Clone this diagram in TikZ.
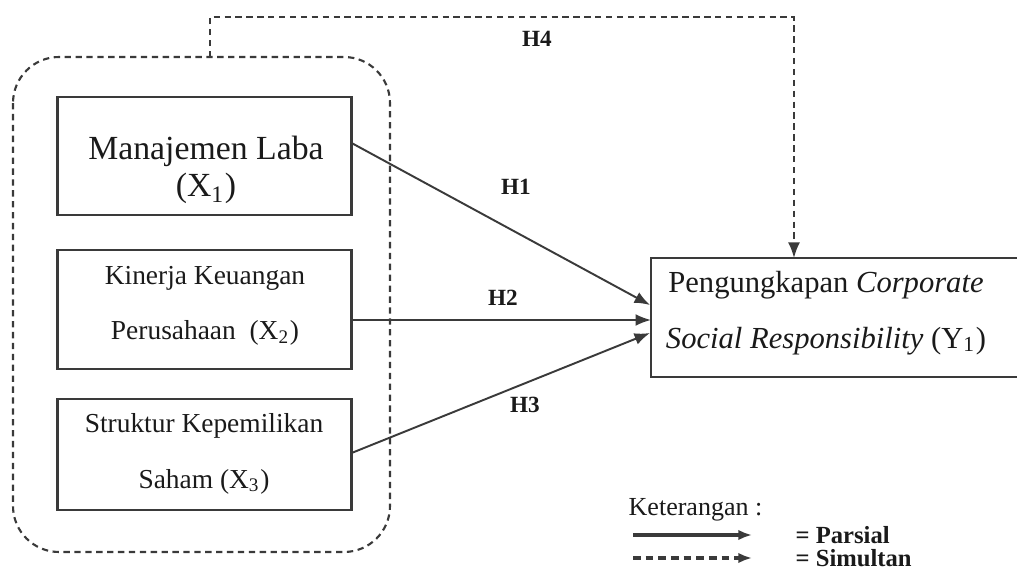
\documentclass[tikz,border=0pt]{standalone}
\usepackage{fontspec}
\setmainfont{Liberation Serif}
\usetikzlibrary{arrows.meta}
\definecolor{ln}{HTML}{3A3A3A}
\definecolor{tx}{HTML}{1A1A1A}
\begin{document}
\begin{tikzpicture}[x=0.01cm,y=-0.01cm,
  box/.style={draw=ln,line width=0.75pt,inner sep=0pt,outer sep=0pt},
  conn/.style={draw=ln,line width=0.55pt,-{Latex[length=4.4pt,width=3.4pt]}},
  dconn/.style={conn,dash pattern=on 1.8pt off 1.3pt},
  lbl/.style={text=tx,inner sep=0pt,align=center},
  hl/.style={text=tx,inner sep=0pt,font=\fontsize{6.6}{8}\selectfont\bfseries}]
\useasboundingbox (0,0) rectangle (1017,570);
\clip (0,0) rectangle (1017,570);
% grouping dashed rounded rectangle
\draw[draw=ln,line width=0.6pt,dash pattern=on 1.8pt off 1.3pt,rounded corners=0.46cm]
  (13,57) rectangle (390,552);
\coordinate (gtop) at (210,57);
% boxes
\node[box,minimum width=2.94cm,minimum height=1.18cm] (x1b) at (204.5,156) {};
\node[box,minimum width=2.94cm,minimum height=1.19cm] (x2b) at (204.5,309.5) {};
\node[box,minimum width=2.94cm,minimum height=1.11cm] (x3b) at (204.5,454.5) {};
\node[box,minimum width=3.70cm,minimum height=1.19cm] (yb) at (836,317.5) {};
% texts
\node[lbl,font=\fontsize{9.6}{10.6}\selectfont] (x1) at (206,170) {Manajemen Laba\\(X\textsubscript{1})};
\node[lbl,font=\fontsize{7.8}{15.8}\selectfont] (x2) at (205,306) {Kinerja Keuangan\\Perusahaan\ \ (X\textsubscript{2})};
\node[lbl,font=\fontsize{7.8}{15.8}\selectfont] (x3) at (204,454) {Struktur Kepemilikan\\Saham (X\textsubscript{3})};
\node[lbl,font=\fontsize{8.7}{15.9}\selectfont] (y) at (826,313) {Pengungkapan \textit{Corporate}\\\textit{Social Responsibility} (Y\textsubscript{1})};
% connectors
\coordinate (t1) at (650,305);
\coordinate (t2) at (651,320);
\coordinate (t3) at (650,333);
\draw[conn] (x1b.east |- 0,143) -- (t1);
\draw[conn] (x2b.east |- 0,320) -- (t2);
\draw[conn] (x3b.east |- 0,453) -- (t3);
\draw[dconn] (gtop) -- (210,17) -- (794,17) -- (yb.north -| 794,0);
% hypothesis labels
\node[hl] (h4) at (537,39) {H4};
\node[hl] (h1) at (516,187) {H1};
\node[hl] (h2) at (503,298) {H2};
\node[hl] (h3) at (525,405) {H3};
% legend
\node[lbl,anchor=west,font=\fontsize{7.4}{9}\selectfont] (ket) at (628,510) {Keterangan :};
\coordinate (ls1) at (633,535);
\coordinate (le1) at (752,535);
\coordinate (ls2) at (633,558);
\coordinate (le2) at (752,558);
\draw[conn,line width=0.9pt,-{Latex[length=3.9pt,width=3pt]}] (ls1) -- (le1);
\draw[dconn,line width=0.9pt,dash pattern=on 2.2pt off 1.4pt,-{Latex[length=3.9pt,width=3pt]}] (ls2) -- (le2);
\node[lbl,anchor=west,font=\fontsize{7}{9}\selectfont\bfseries] (par) at (795,535) {= Parsial};
\node[lbl,anchor=west,font=\fontsize{7}{9}\selectfont\bfseries] (sim) at (795,558) {= Simultan};
\end{tikzpicture}
\end{document}
